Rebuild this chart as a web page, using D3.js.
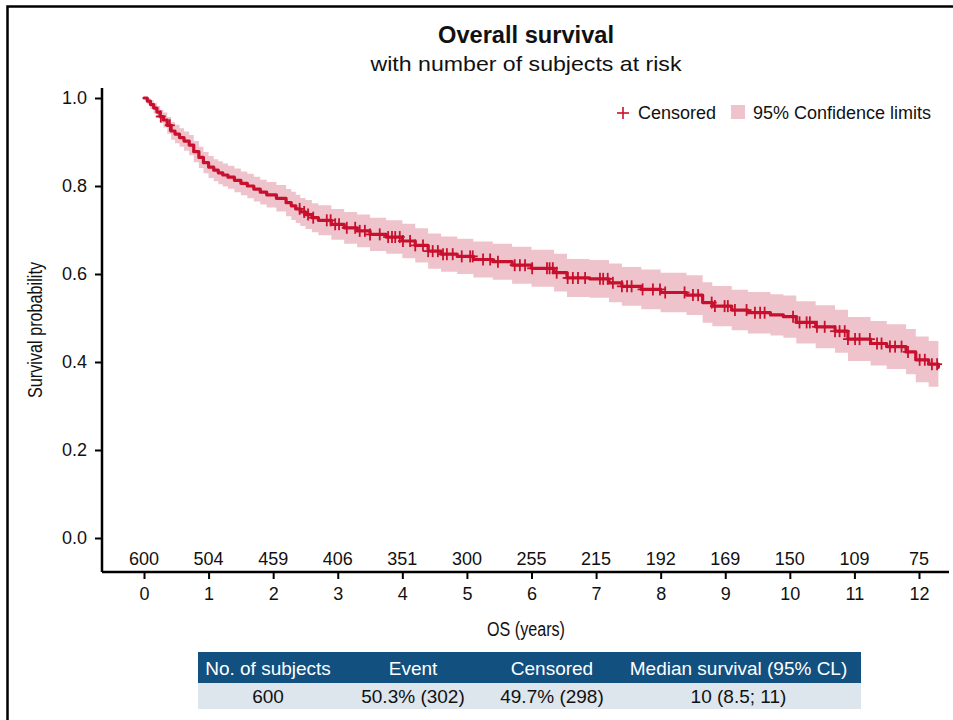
<!DOCTYPE html>
<html>
<head>
<meta charset="utf-8">
<script src="https://cdn.jsdelivr.net/npm/d3@7"></script>
<style>
  body { margin: 0; background: #fff; }
  text { font-family: "Liberation Sans", Arial, sans-serif; fill: #111; }
</style>
</head>
<body>
<script>
    // KM estimate (step points)
    const times = [0, 0.05, 0.10, 0.15, 0.20, 0.25, 0.30, 0.36, 0.42, 0.48, 0.55, 0.62, 0.70, 0.77, 0.85, 0.92, 1.00, 1.08, 1.15, 1.22,
        1.30, 1.40, 1.50, 1.60, 1.70, 1.80, 1.90, 2.05, 2.20, 2.28, 2.35, 2.42, 2.50, 2.60, 2.70, 2.90,
        3.10, 3.30, 3.50, 3.75, 4.00, 4.20, 4.40, 4.60, 4.85, 5.10, 5.40, 5.70, 6.00, 6.35, 6.55, 6.90, 7.20, 7.40, 7.70, 8.00,
        8.40, 8.65, 8.80, 9.10, 9.35, 9.70, 9.90, 10.10, 10.40, 10.70, 10.90, 11.25, 11.50, 11.80, 11.95, 12.15, 12.30];
    const surv = [1.000, 0.993, 0.985, 0.977, 0.968, 0.958, 0.950, 0.938, 0.925, 0.918, 0.910, 0.902, 0.893, 0.878, 0.865, 0.853, 0.843, 0.836, 0.830, 0.825,
        0.820, 0.813, 0.806, 0.800, 0.793, 0.786, 0.780, 0.772, 0.762, 0.755, 0.748, 0.741, 0.735, 0.728, 0.722, 0.713,
        0.705, 0.698, 0.690, 0.684, 0.675, 0.665, 0.652, 0.645, 0.640, 0.633, 0.628, 0.620, 0.613, 0.603, 0.591, 0.589, 0.580, 0.572, 0.565, 0.558,
        0.552, 0.535, 0.527, 0.518, 0.512, 0.507, 0.503, 0.490, 0.480, 0.470, 0.452, 0.442, 0.435, 0.423, 0.405, 0.395, 0.388];
    const lower = [1.000, 0.986, 0.975, 0.965, 0.954, 0.943, 0.933, 0.919, 0.905, 0.897, 0.889, 0.880, 0.870, 0.854, 0.841, 0.829, 0.818, 0.811, 0.804, 0.799,
        0.794, 0.786, 0.779, 0.772, 0.765, 0.758, 0.751, 0.742, 0.731, 0.723, 0.716, 0.709, 0.702, 0.695, 0.688, 0.678,
        0.669, 0.661, 0.652, 0.646, 0.636, 0.626, 0.612, 0.605, 0.600, 0.592, 0.587, 0.578, 0.571, 0.560, 0.548, 0.546, 0.536, 0.528, 0.520, 0.513,
        0.507, 0.489, 0.481, 0.472, 0.465, 0.460, 0.455, 0.442, 0.431, 0.421, 0.402, 0.392, 0.384, 0.372, 0.354, 0.344, 0.339];
    const upper = [1.000, 1.000, 0.995, 0.989, 0.982, 0.973, 0.967, 0.957, 0.945, 0.939, 0.931, 0.924, 0.916, 0.902, 0.889, 0.877, 0.868, 0.861, 0.856, 0.851,
        0.846, 0.840, 0.833, 0.828, 0.821, 0.814, 0.809, 0.802, 0.793, 0.787, 0.780, 0.773, 0.768, 0.761, 0.756, 0.748,
        0.741, 0.735, 0.728, 0.722, 0.714, 0.704, 0.692, 0.685, 0.680, 0.674, 0.669, 0.662, 0.655, 0.646, 0.634, 0.632, 0.624, 0.616, 0.610, 0.603,
        0.597, 0.581, 0.573, 0.564, 0.559, 0.554, 0.551, 0.538, 0.529, 0.519, 0.502, 0.493, 0.486, 0.475, 0.458, 0.448, 0.442];

    // censoring times (years)
    const censorTimes = [0.26, 0.40, 2.41, 2.48, 2.54, 2.62, 2.83, 2.89, 2.96, 3.02, 3.14, 3.27, 3.34, 3.42, 3.50, 3.65, 3.78, 3.84, 3.89, 3.96,
        4.01, 4.12, 4.20, 4.32, 4.40, 4.47, 4.55, 4.63, 4.69, 4.78, 4.92, 5.05, 5.09, 5.25, 5.36, 5.48, 5.74, 5.82, 5.90, 6.01,
        6.24, 6.28, 6.33, 6.39, 6.56, 6.64, 6.72, 6.83, 7.06, 7.11, 7.18, 7.26, 7.40, 7.48, 7.55, 7.72, 7.88, 7.99, 8.07, 8.37,
        8.50, 8.58, 8.79, 8.84, 8.99, 9.04, 9.15, 9.33, 9.46, 9.54, 9.61, 10.05, 10.15, 10.26, 10.31, 10.42, 10.54, 10.70, 10.77, 10.85,
        10.90, 11.01, 11.08, 11.24, 11.35, 11.42, 11.55, 11.63, 11.73, 11.83, 12.01, 12.09, 12.20, 12.28];

    const riskTimes = [0, 1, 2, 3, 4, 5, 6, 7, 8, 9, 10, 11, 12];
    const atRisk = [600, 504, 459, 406, 351, 300, 255, 215, 192, 169, 150, 109, 75];
    const xTicks = [0, 1, 2, 3, 4, 5, 6, 7, 8, 9, 10, 11, 12];
    const yTicks = [0, 0.2, 0.4, 0.6, 0.8, 1.0];

    const tableHeader = ["No. of subjects", "Event", "Censored", "Median survival (95% CL)"];
    const tableRow = ["600", "50.3% (302)", "49.7% (298)", "10 (8.5; 11)"];

    const red = "#c8102e";
    const pink = "#efc3cb";

    const width = 953, height = 720;
    const svg = d3.select("body").append("svg")
        .attr("width", width)
        .attr("height", height);

    // outer frame (top + left)
    svg.append("path")
        .attr("d", `M${width},6.5 H7.5 V${height}`)
        .attr("fill", "none")
        .attr("stroke", "#000")
        .attr("stroke-width", 2.5);

    const x = d3.scaleLinear().domain([0, 12]).range([144, 919]);
    const y = d3.scaleLinear().domain([0, 1]).range([538, 98]);
    const axisX = 102, axisY = 572;

    // title
    svg.append("text").attr("x", 526).attr("y", 43).attr("text-anchor", "middle")
        .attr("textLength", 176).attr("lengthAdjust", "spacingAndGlyphs")
        .style("font-size", "23px").style("font-weight", "bold").text("Overall survival");
    svg.append("text").attr("x", 526).attr("y", 71).attr("text-anchor", "middle")
        .attr("textLength", 311).attr("lengthAdjust", "spacingAndGlyphs")
        .style("font-size", "21px").text("with number of subjects at risk");

    const data = times.map((t, i) => ({t: t, s: surv[i], lo: lower[i], hi: upper[i]}));

    // confidence band
    svg.append("path")
        .datum(data)
        .attr("fill", pink)
        .attr("d", d3.area()
            .curve(d3.curveStepAfter)
            .x(d => x(d.t))
            .y0(d => y(d.lo))
            .y1(d => y(d.hi)));

    // survival line
    svg.append("path")
        .datum(data)
        .attr("fill", "none")
        .attr("stroke", red)
        .attr("stroke-width", 3.2)
        .attr("stroke-linejoin", "round")
        .attr("stroke-linecap", "round")
        .attr("d", d3.line()
            .curve(d3.curveStepAfter)
            .x(d => x(d.t))
            .y(d => y(d.s)));

    // censor marks
    const bis = d3.bisector(d => d.t).right;
    const survAt = t => data[Math.max(0, bis(data, t) - 1)].s;
    const marks = svg.append("g").attr("stroke", red).attr("stroke-width", 1.8);
    censorTimes.forEach(t => {
        const cx = x(t), cy = y(survAt(t));
        marks.append("line").attr("x1", cx).attr("x2", cx).attr("y1", cy - 6).attr("y2", cy + 6);
        marks.append("line").attr("x1", cx - 5).attr("x2", cx + 5).attr("y1", cy).attr("y2", cy);
    });

    // y axis
    const yAxis = svg.append("g")
        .attr("transform", `translate(${axisX},0)`)
        .call(d3.axisLeft(y).tickValues(yTicks).tickFormat(d3.format(".1f")).tickSize(7).tickPadding(8));
    yAxis.select(".domain").attr("d", `M0,88V${axisY}`).attr("stroke-width", 2.5);
    yAxis.selectAll(".tick line").attr("stroke-width", 2);
    yAxis.selectAll("text").style("font-size", "18px").style("font-family", "Liberation Sans, Arial, sans-serif").attr("fill", "#111");

    // x axis
    const xAxis = svg.append("g")
        .attr("transform", `translate(0,${axisY})`)
        .call(d3.axisBottom(x).tickValues(xTicks).tickSize(7).tickPadding(8));
    xAxis.select(".domain").attr("d", `M${axisX},0H949`).attr("stroke-width", 2.5);
    xAxis.selectAll(".tick line").attr("stroke-width", 2);
    xAxis.selectAll("text").style("font-size", "18px").style("font-family", "Liberation Sans, Arial, sans-serif").attr("fill", "#111");

    // number at risk
    svg.append("g").selectAll("text")
        .data(riskTimes)
        .join("text")
        .attr("x", d => x(d))
        .attr("y", 565)
        .attr("text-anchor", "middle")
        .style("font-size", "18px")
        .text((d, i) => atRisk[i]);

    // axis titles (condensed)
    svg.append("text")
        .attr("transform", "translate(42,330) rotate(-90)")
        .attr("text-anchor", "middle")
        .attr("textLength", 136).attr("lengthAdjust", "spacingAndGlyphs")
        .style("font-size", "20px")
        .text("Survival probability");
    svg.append("text")
        .attr("x", 526).attr("y", 636)
        .attr("text-anchor", "middle")
        .attr("textLength", 78).attr("lengthAdjust", "spacingAndGlyphs")
        .style("font-size", "20px")
        .text("OS (years)");

    // legend
    const lg = svg.append("g");
    lg.append("line").attr("x1", 617).attr("x2", 629).attr("y1", 113).attr("y2", 113).attr("stroke", red).attr("stroke-width", 1.6);
    lg.append("line").attr("x1", 623).attr("x2", 623).attr("y1", 107).attr("y2", 119).attr("stroke", red).attr("stroke-width", 1.6);
    lg.append("text").attr("x", 638).attr("y", 119).style("font-size", "18px").text("Censored");
    lg.append("rect").attr("x", 731).attr("y", 105).attr("width", 14).attr("height", 14).attr("fill", pink);
    lg.append("text").attr("x", 753).attr("y", 119).style("font-size", "18px").text("95% Confidence limits");

    // summary table
    const colX = [198, 338, 488, 616, 861];
    const tb = svg.append("g");
    tb.append("rect").attr("x", 198).attr("y", 652).attr("width", 663).attr("height", 31).attr("fill", "#12507f");
    tb.append("rect").attr("x", 198).attr("y", 683).attr("width", 663).attr("height", 26).attr("fill", "#dde5ed");
    tableHeader.forEach((h, i) => {
        tb.append("text").attr("x", (colX[i] + colX[i + 1]) / 2).attr("y", 675)
            .attr("text-anchor", "middle").style("font-size", "19px").style("fill", "#fff").text(h);
        tb.append("text").attr("x", (colX[i] + colX[i + 1]) / 2).attr("y", 703)
            .attr("text-anchor", "middle").style("font-size", "19px").text(tableRow[i]);
    });
</script>
</body>
</html>
